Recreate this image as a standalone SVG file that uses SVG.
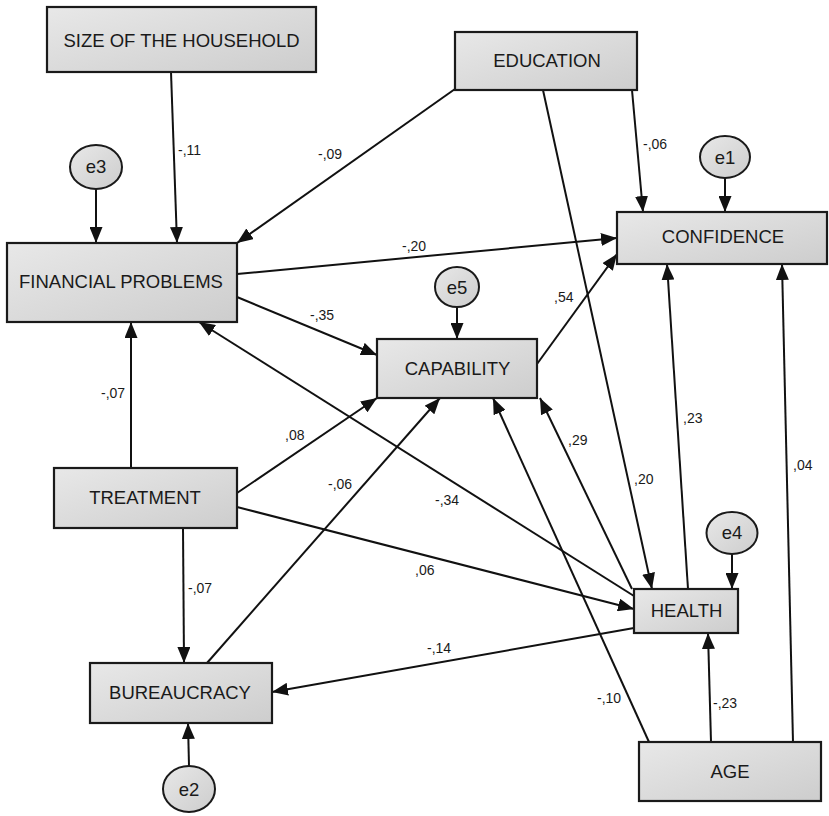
<svg xmlns="http://www.w3.org/2000/svg" width="829" height="816" viewBox="0 0 829 816">
<style>
.box{fill:url(#g);stroke:#1a1a1a;stroke-width:2.2}
.lat{fill:url(#g);stroke:#1a1a1a;stroke-width:2}
.t{font-family:"Liberation Sans",Arial,sans-serif;font-size:18.5px;fill:#1a1a1a;text-anchor:middle}
.l{font-family:"Liberation Sans",Arial,sans-serif;font-size:14px;fill:#1a1a1a}
#edges line{stroke:#111;stroke-width:2;marker-end:url(#ah)}
</style>
<defs>
<linearGradient id="g" x1="0" y1="0" x2="1" y2="1">
<stop offset="0" stop-color="#e8e8e8"/>
<stop offset="1" stop-color="#cdcdcd"/>
</linearGradient>
<marker id="ah" markerUnits="userSpaceOnUse" viewBox="0 0 16 13" markerWidth="16" markerHeight="13" refX="16" refY="6.5" orient="auto">
<path d="M0,0 L16,6.5 L0,13 z" fill="#111"/>
</marker>
</defs>
<rect width="829" height="816" fill="#fff"/>
<g id="edges">
<line x1="171" y1="72" x2="177" y2="243"/>
<line x1="96" y1="189" x2="96" y2="243"/>
<line x1="455" y1="89" x2="237" y2="243"/>
<line x1="632" y1="90" x2="643" y2="212"/>
<line x1="543" y1="90" x2="652" y2="589"/>
<line x1="237" y1="274" x2="617" y2="238"/>
<line x1="237" y1="297" x2="377" y2="355"/>
<line x1="457" y1="307" x2="457" y2="339"/>
<line x1="537" y1="364" x2="617" y2="254"/>
<line x1="725" y1="178" x2="725" y2="212"/>
<line x1="131" y1="468" x2="131" y2="322"/>
<line x1="237" y1="493" x2="377" y2="398"/>
<line x1="237" y1="507" x2="634" y2="609"/>
<line x1="183" y1="528" x2="184" y2="663"/>
<line x1="207" y1="663" x2="440" y2="398"/>
<line x1="634" y1="596" x2="199" y2="322"/>
<line x1="632" y1="589" x2="540" y2="398"/>
<line x1="649" y1="742" x2="493" y2="398"/>
<line x1="688" y1="589" x2="667" y2="264"/>
<line x1="793" y1="742" x2="782" y2="264"/>
<line x1="711" y1="742" x2="708" y2="633"/>
<line x1="634" y1="628" x2="272" y2="692"/>
<line x1="732" y1="554" x2="732" y2="589"/>
<line x1="189" y1="766" x2="188" y2="723"/>
</g>
<g id="edge-labels">
<text class="l" x="178" y="155">-,11</text>
<text class="l" x="318" y="159">-,09</text>
<text class="l" x="643" y="149">-,06</text>
<text class="l" x="402" y="251">-,20</text>
<text class="l" x="310" y="320">-,35</text>
<text class="l" x="554" y="302">,54</text>
<text class="l" x="101" y="398">-,07</text>
<text class="l" x="285" y="440">,08</text>
<text class="l" x="328" y="489">-,06</text>
<text class="l" x="435" y="505">-,34</text>
<text class="l" x="568" y="445">,29</text>
<text class="l" x="634" y="484">,20</text>
<text class="l" x="683" y="423">,23</text>
<text class="l" x="415" y="575">,06</text>
<text class="l" x="188" y="593">-,07</text>
<text class="l" x="427" y="653">-,14</text>
<text class="l" x="597" y="703">-,10</text>
<text class="l" x="713" y="708">-,23</text>
<text class="l" x="793" y="470">,04</text>
</g>
<g id="size"><rect class="box" x="47" y="7" width="269" height="65"/><text class="t" x="181.5" y="46.5">SIZE OF THE HOUSEHOLD</text></g>
<g id="education"><rect class="box" x="455" y="32" width="182" height="58"/><text class="t" x="547" y="67">EDUCATION</text></g>
<g id="financial"><rect class="box" x="7" y="243" width="230" height="79"/><text class="t" x="121" y="288">FINANCIAL PROBLEMS</text></g>
<g id="confidence"><rect class="box" x="617" y="212" width="210" height="52"/><text class="t" x="723" y="243">CONFIDENCE</text></g>
<g id="capability"><rect class="box" x="377" y="339" width="160" height="59"/><text class="t" x="457.5" y="375">CAPABILITY</text></g>
<g id="treatment"><rect class="box" x="54" y="468" width="183" height="60"/><text class="t" x="145" y="504">TREATMENT</text></g>
<g id="health"><rect class="box" x="634" y="589" width="104" height="44"/><text class="t" x="686.5" y="617">HEALTH</text></g>
<g id="bureaucracy"><rect class="box" x="90" y="663" width="182" height="60"/><text class="t" x="180" y="699">BUREAUCRACY</text></g>
<g id="age"><rect class="box" x="639" y="742" width="182" height="59"/><text class="t" x="730" y="778">AGE</text></g>
<g id="e1"><ellipse class="lat" cx="725" cy="157" rx="25" ry="21"/><text class="t" x="725" y="163.5">e1</text></g>
<g id="e3"><ellipse class="lat" cx="96" cy="167" rx="26" ry="22"/><text class="t" x="96" y="173">e3</text></g>
<g id="e5"><ellipse class="lat" cx="457" cy="287" rx="22" ry="20"/><text class="t" x="457" y="293.5">e5</text></g>
<g id="e4"><ellipse class="lat" cx="732" cy="533" rx="25.5" ry="21"/><text class="t" x="732" y="539">e4</text></g>
<g id="e2"><ellipse class="lat" cx="189" cy="789" rx="26" ry="23"/><text class="t" x="189" y="796">e2</text></g>
</svg>
